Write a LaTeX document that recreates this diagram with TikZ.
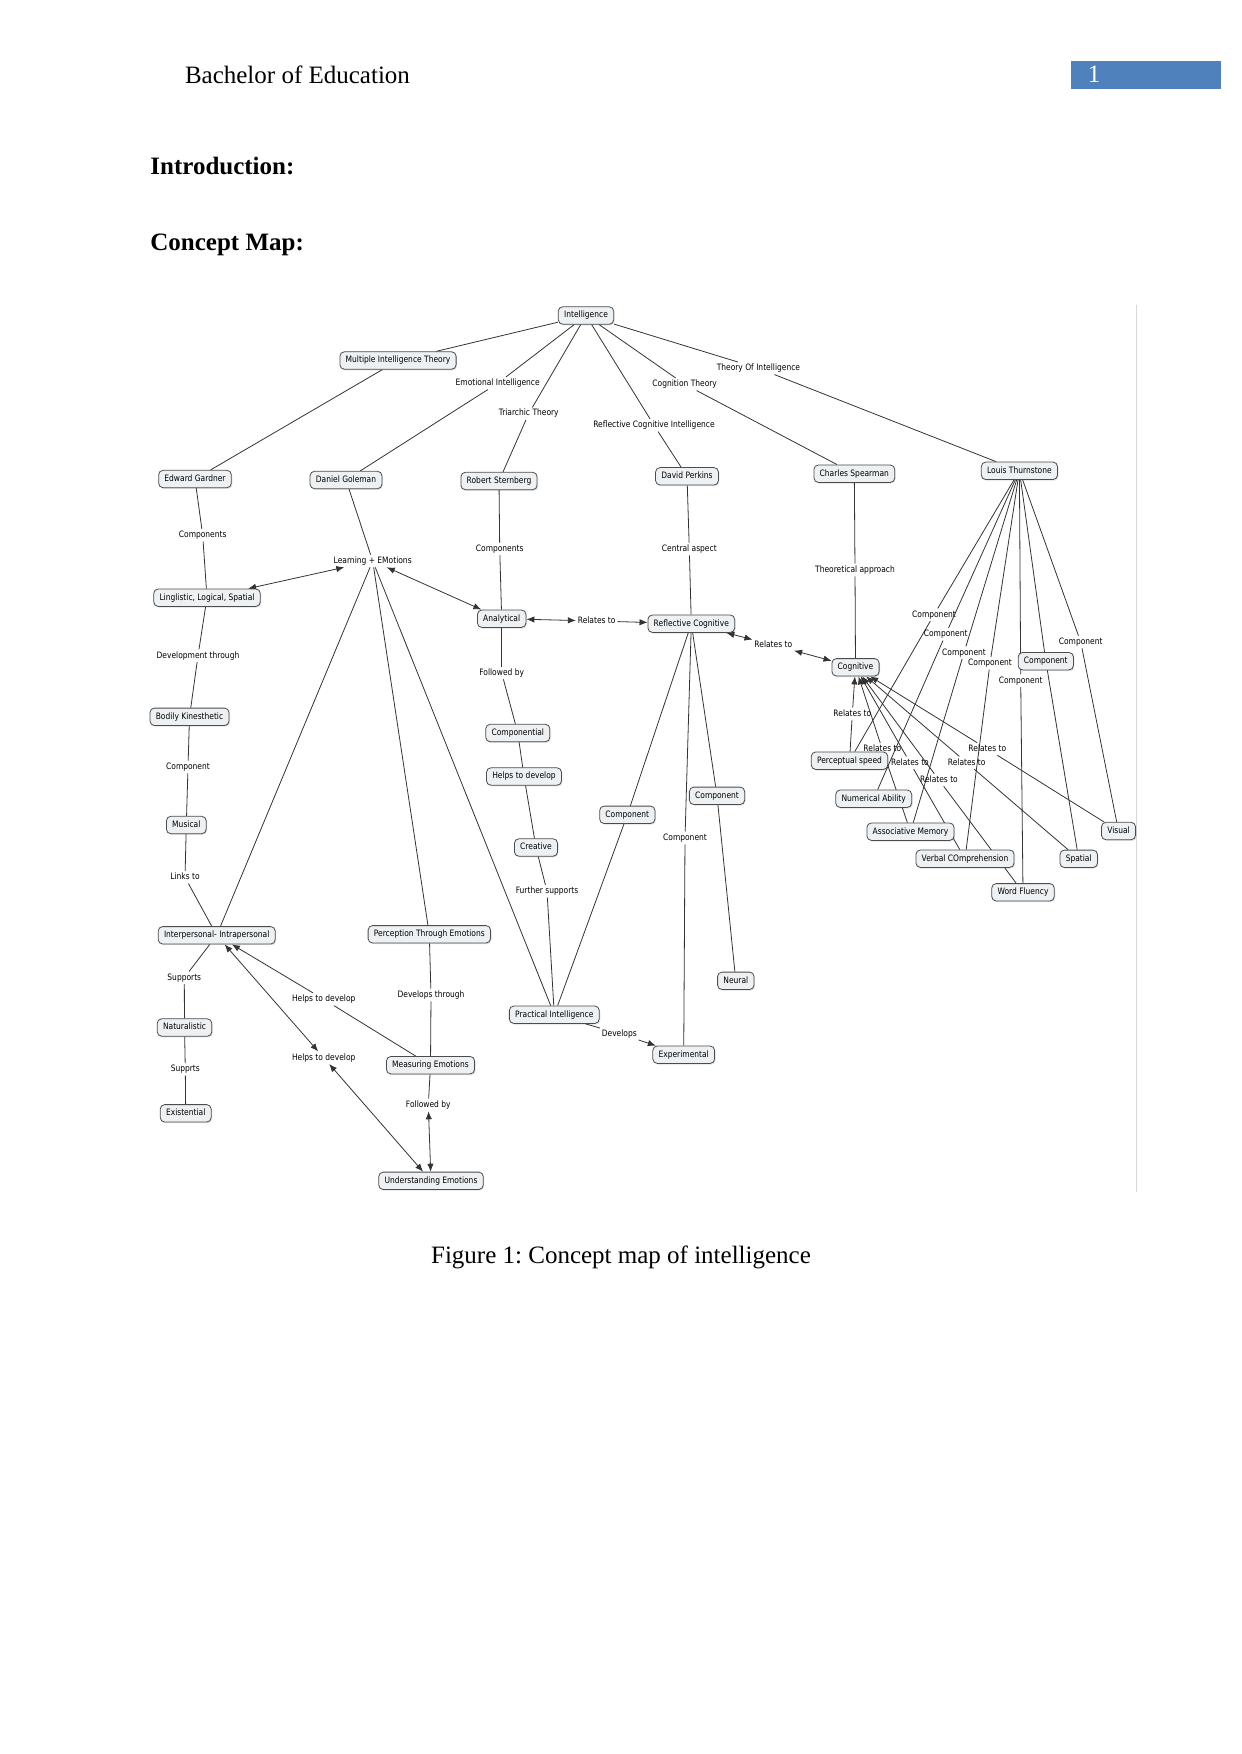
\documentclass[tikz,border=0pt]{standalone}
\usepackage{fontspec}
\setmainfont{Liberation Serif}
\newfontfamily\mapfont[FakeStretch=0.855]{DejaVu Sans}
\usetikzlibrary{arrows.meta,backgrounds,shadows}
\definecolor{boxfill}{HTML}{EDF1F3}
\definecolor{hdrblue}{HTML}{4F81BD}
\frenchspacing
\begin{document}
\frenchspacing
\begin{tikzpicture}[x=0.5pt,y=-0.5pt,
  >={Latex[length=4pt,width=3.2pt]},
  cbox/.style={draw=black!70, fill=boxfill, rounded corners=2.2pt, line width=0.4pt,
    inner xsep=2.9pt, inner ysep=2.2pt, text height=3.3pt, text depth=1pt,
    font=\mapfont\fontsize{4.4}{5}\selectfont,
    drop shadow={shadow xshift=0.5pt, shadow yshift=-0.6pt, fill=black, opacity=0.12}},
  lbl/.style={inner sep=0.8pt, text height=3.3pt, text depth=1pt,
    font=\mapfont\fontsize{4.4}{5}\selectfont},
  conn/.style={draw=black!80, line width=0.4pt},
  doc/.style={anchor=base west, inner sep=0, font=\fontsize{12.5}{15}\selectfont},
]
\useasboundingbox (0,0) rectangle (1241,1754);

% page header and headings
\fill[hdrblue] (1071,61) rectangle (1221,89);
\node[doc, text=white] (pg) at (1087.5,83) {1};
\node[doc] (hdr) at (184.6,83.5) {Bachelor of Education};
\node[doc, font=\fontsize{12.5}{15}\selectfont\bfseries] (intro) at (150,174.5) {Introduction:};
\node[doc, font=\fontsize{12.5}{15}\selectfont\bfseries] (cmap) at (150,251) {Concept Map:};
\node[doc] (cap) at (430.7,1263) {Figure 1: Concept map of intelligence};
\draw[black!15, line width=0.5pt] (1136,305) -- (1136,1192);

% concept boxes
\node[cbox] (int) at (586,315.5) {Intelligence};
\node[cbox] (mit) at (398,360.5) {Multiple Intelligence Theory};
\node[cbox] (eg) at (195,479) {Edward Gardner};
\node[cbox] (dg) at (346,480) {Daniel Goleman};
\node[cbox] (rs) at (499,481) {Robert Sternberg};
\node[cbox] (dp) at (687,476.3) {David Perkins};
\node[cbox] (cs) at (854.3,473.7) {Charles Spearman};
\node[cbox] (lt) at (1019.4,470.8) {Louis Thurnstone};
\node[cbox] (lls) at (207,597.7) {Linglistic, Logical, Spatial};
\node[cbox] (bk) at (189.5,716.8) {Bodily Kinesthetic};
\node[cbox] (ana) at (501.7,618.7) {Analytical};
\node[cbox] (rc) at (691.3,623.7) {Reflective Cognitive};
\node[cbox] (comp) at (517.8,733) {Componential};
\node[cbox] (htd) at (524,776.5) {Helps to develop};
\node[cbox] (cmpL) at (627.3,814.8) {Component};
\node[cbox] (cmpR) at (717,795.8) {Component};
\node[cbox] (cre) at (536,847.5) {Creative};
\node[cbox] (neu) at (735.8,980.8) {Neural};
\node[cbox] (pi) at (554.3,1014.7) {Practical Intelligence};
\node[cbox] (exp) at (683.7,1054.7) {Experimental};
\node[cbox] (cog) at (855.5,667.3) {Cognitive};
\node[cbox] (cmpT) at (1045.8,661.2) {Component};
\node[cbox] (ps) at (849.5,760.7) {Perceptual speed};
\node[cbox] (na) at (873.7,798.7) {Numerical Ability};
\node[cbox] (am) at (910.5,831.7) {Associative Memory};
\node[cbox] (vc) at (965,858.7) {Verbal COmprehension};
\node[cbox] (wf) at (1023,892.3) {Word Fluency};
\node[cbox] (sp) at (1078.7,858.8) {Spatial};
\node[cbox] (vis) at (1118.5,831) {Visual};
\node[cbox] (mus) at (186.3,825) {Musical};
\node[cbox] (ii) at (216.7,935.3) {Interpersonal- Intrapersonal};
\node[cbox] (pte) at (429.3,934.3) {Perception Through Emotions};
\node[cbox] (nat) at (184.5,1027.5) {Naturalistic};
\node[cbox] (exi) at (185.7,1113.3) {Existential};
\node[cbox] (me) at (430.5,1065.2) {Measuring Emotions};
\node[cbox] (ue) at (431,1180.8) {Understanding Emotions};

% linking phrases
\node[lbl] (lEI) at (497.7,383.3) {Emotional Intelligence};
\node[lbl] (lTT) at (528.7,413.7) {Triarchic Theory};
\node[lbl] (lTOI) at (758.4,368.3) {Theory Of Intelligence};
\node[lbl] (lCT) at (684.7,384.3) {Cognition Theory};
\node[lbl] (lRCI) at (654,425.3) {Reflective Cognitive Intelligence};
\node[lbl] (lCs1) at (202.7,535.3) {Components};
\node[lbl] (lLE) at (372.7,561) {Learning + EMotions};
\node[lbl] (lCs2) at (499.7,549) {Components};
\node[lbl] (lDT) at (198,655.7) {Development through};
\node[lbl] (lC1) at (188,767) {Component};
\node[lbl] (lFB1) at (501.7,673) {Followed by};
\node[lbl] (lCA) at (689.3,549) {Central aspect};
\node[lbl] (lRT1) at (596.7,621) {Relates to};
\node[lbl] (lRT2) at (773.3,645) {Relates to};
\node[lbl] (lTA) at (855,570) {Theoretical approach};
\node[lbl] (lLT) at (185,877.3) {Links to};
\node[lbl] (lSup) at (184.3,977.7) {Supports};
\node[lbl] (lH1) at (323.7,999.3) {Helps to develop};
\node[lbl] (lDvT) at (431,995) {Develops through};
\node[lbl] (lSpp) at (185.3,1069.3) {Supprts};
\node[lbl] (lH2) at (323.7,1057.7) {Helps to develop};
\node[lbl] (lFB2) at (428.3,1105) {Followed by};
\node[lbl] (lFS) at (547,891.3) {Further supports};
\node[lbl] (lC2) at (685,838) {Component};
\node[lbl] (lDev) at (619.3,1033.7) {Develops};
\node[lbl] (fa) at (934,614.7) {Component};
\node[lbl] (fb) at (945.7,634.3) {Component};
\node[lbl] (fc) at (964,652.7) {Component};
\node[lbl] (fd) at (990,663.3) {Component};
\node[lbl] (fe) at (1020.7,680.7) {Component};
\node[lbl] (ff) at (1080.7,642) {Component};
\node[lbl] (r1) at (852.3,714) {Relates to};
\node[lbl] (r2) at (882.3,749.3) {Relates to};
\node[lbl] (r3) at (910,762.7) {Relates to};
\node[lbl] (r4) at (939,780) {Relates to};
\node[lbl] (r5) at (966.7,762.7) {Relates to};
\node[lbl] (r6) at (987.3,749) {Relates to};

\begin{pgfonlayer}{background}
\begin{scope}[conn]
\draw (int) -- (mit);
\draw (int) -- (lEI); \draw (lEI) -- (dg);
\draw (int) -- (lTT); \draw (lTT) -- (rs);
\draw (int) -- (lRCI); \draw (lRCI) -- (dp);
\draw (int) -- (lCT); \draw (lCT) -- (cs);
\draw (int) -- (lTOI); \draw (lTOI) -- (lt);
\draw (mit) -- (eg);
\draw (eg) -- (lCs1); \draw (lCs1) -- (lls);
\draw (lls) -- (lDT); \draw (lDT) -- (bk);
\draw (bk) -- (lC1); \draw (lC1) -- (mus);
\draw (mus) -- (lLT); \draw (lLT) -- (ii);
\draw (ii) -- (lSup); \draw (lSup) -- (nat);
\draw (nat) -- (lSpp); \draw (lSpp) -- (exi);
\draw (dg) -- (lLE);
\draw[<->] (lLE) -- (lls);
\draw[<->] (lLE) -- (ana);
\draw (lLE) -- (ii);
\draw (lLE) -- (pte);
\draw (lLE) -- (pi);
\draw (rs) -- (lCs2); \draw (lCs2) -- (ana);
\draw (ana) -- (lFB1); \draw (lFB1) -- (comp);
\draw (comp) -- (htd);
\draw (htd) -- (cre);
\draw (cre) -- (lFS); \draw (lFS) -- (pi);
\draw[<->] (ana) -- (lRT1); \draw[->] (lRT1) -- (rc);
\draw (dp) -- (lCA); \draw (lCA) -- (rc);
\draw[<->] (rc) -- (lRT2); \draw[<->] (lRT2) -- (cog);
\draw (rc) -- (cmpL); \draw (cmpL) -- (pi);
\draw (rc) -- (cmpR); \draw (cmpR) -- (neu);
\draw (rc) -- (lC2); \draw (lC2) -- (exp);
\draw (pi) -- (lDev); \draw[->] (lDev) -- (exp);
\draw (cs) -- (lTA); \draw (lTA) -- (cog);
\draw (lt) -- (fa); \draw (fa) -- (ps);
\draw (lt) -- (fb); \draw (fb) -- (na);
\draw (lt) -- (fc); \draw (fc) -- (am);
\draw (lt) -- (fd); \draw (fd) -- (vc);
\draw (lt) -- (fe); \draw (fe) -- (wf);
\draw (lt) -- (cmpT); \draw (cmpT) -- (sp);
\draw (lt) -- (ff); \draw (ff) -- (vis);
\draw[->] (r1) -- (cog); \draw (r1) -- (ps);
\draw[->] (r2) -- (cog); \draw (r2) -- (am);
\draw[->] (r3) -- (cog); \draw (r3) -- (vc);
\draw[->] (r4) -- (cog); \draw (r4) -- (wf);
\draw[->] (r5) -- (cog); \draw (r5) -- (sp);
\draw[->] (r6) -- (cog); \draw (r6) -- (vis);
\draw[->] (lH1) -- (ii); \draw (lH1) -- (me);
\draw[<->] (ii) -- (lH2); \draw[<->] (lH2) -- (ue);
\draw (me) -- (lFB2); \draw[<->] (lFB2) -- (ue);
\draw (pte) -- (lDvT); \draw (lDvT) -- (me);
\end{scope}
\end{pgfonlayer}
\end{tikzpicture}
\end{document}
